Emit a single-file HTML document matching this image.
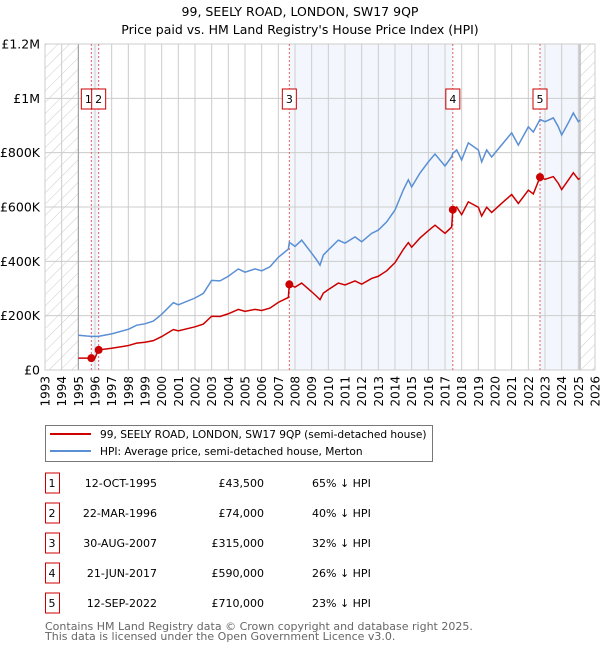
<!DOCTYPE html>
<html><head><meta charset="utf-8">
<style>
body{margin:0;background:#fff;font-family:"DejaVu Sans","Liberation Sans",sans-serif;}
svg text{font-family:"DejaVu Sans","Liberation Sans",sans-serif;}
</style></head>
<body>
<svg id="chart" width="600" height="650" xmlns="http://www.w3.org/2000/svg">
<defs>
<pattern id="hatch" patternUnits="userSpaceOnUse" width="8" height="8" patternTransform="rotate(45)">
<line x1="0" y1="0" x2="0" y2="8" stroke="#ccc" stroke-width="1"/>
</pattern>
<clipPath id="plotclip"><rect x="45" y="44" width="550" height="326"/></clipPath>
</defs>
<text x="300" y="16" text-anchor="middle" font-size="12.5">99, SEELY ROAD, LONDON, SW17 9QP</text>
<text x="300" y="34" text-anchor="middle" font-size="12.5">Price paid vs. HM Land Registry's House Price Index (HPI)</text>
<g id="plot"></g>
<g>
<rect x="45.5" y="425.5" width="387" height="36" fill="#fff" stroke="#777"/>
<line x1="50" y1="434" x2="91" y2="434" stroke="#cc0000" stroke-width="2"/>
<text x="100" y="438" font-size="10.6">99, SEELY ROAD, LONDON, SW17 9QP (semi-detached house)</text>
<line x1="50" y1="451" x2="91" y2="451" stroke="#5a8fd4" stroke-width="2"/>
<text x="100" y="455" font-size="10.6">HPI: Average price, semi-detached house, Merton</text>
</g>
<g id="table"></g>
<text x="45" y="630" font-size="11" fill="#666">Contains HM Land Registry data © Crown copyright and database right 2025.</text>
<text x="45" y="640" font-size="11" fill="#666">This data is licensed under the Open Government Licence v3.0.</text>
</svg>
<script>
const hpiDates=[1995.0,1995.5,1995.78,1996.0,1996.2,1997.0,1998.0,1998.5,1999.0,1999.5,2000.0,2000.7,2001.0,2002.0,2002.5,2003.0,2003.5,2004.0,2004.6,2005.0,2005.6,2006.0,2006.5,2007.0,2007.6,2007.66,2008.0,2008.4,2009.0,2009.3,2009.5,2009.7,2010.0,2010.6,2011.0,2011.6,2012.0,2012.6,2013.0,2013.5,2014.0,2014.5,2014.8,2015.0,2015.5,2016.0,2016.4,2017.0,2017.4,2017.47,2017.7,2018.0,2018.4,2019.0,2019.2,2019.5,2019.8,2020.5,2021.0,2021.4,2022.0,2022.3,2022.7,2023.0,2023.5,2023.8,2024.0,2024.4,2024.7,2025.0,2025.1];
const hpiValues=[128,125,124,124,124,133,150,165,170,180,205,248,240,265,282,330,328,345,372,360,372,365,380,415,445,470,455,478,430,405,386,423,442,478,467,490,472,503,515,545,589,663,700,674,725,766,795,751,785,797,810,773,836,810,766,810,784,836,873,828,895,876,922,914,928,895,865,910,946,914,920];
const priceValues=[43.5,43.5,43.5,43.5,74,80,90,99,102,108,123,149,144,159,169,198,197,207,223,216,223,219,228,249,267,315,305,320,288,271,259,283,296,320,313,328,316,337,345,365,395,444,469,452,486,513,533,503,526,590,600,572,619,599,567,599,580,619,646,613,662,648,710,702,712,687,664,699,726,702,706];
const saleDates=[1995.78,1996.22,2007.66,2017.47,2022.7];
const salePrices=[43.5,74,315,590,710];
const saleLabels=["1","2","3","4","5"];
const saleDateText=["12-OCT-1995","22-MAR-1996","30-AUG-2007","21-JUN-2017","12-SEP-2022"];
const salePriceText=["£43,500","£74,000","£315,000","£590,000","£710,000"];
const saleHpiText=["65% ↓ HPI","40% ↓ HPI","32% ↓ HPI","26% ↓ HPI","23% ↓ HPI"];
const yTicks=[0,200,400,600,800,1000,1200];
const yTickLabels=["£0","£200K","£400K","£600K","£800K","£1M","£1.2M"];
const xYears=[1993,1994,1995,1996,1997,1998,1999,2000,2001,2002,2003,2004,2005,2006,2007,2008,2009,2010,2011,2012,2013,2014,2015,2016,2017,2018,2019,2020,2021,2022,2023,2024,2025,2026];

const NS="http://www.w3.org/2000/svg";
const X0=45,X1=595,Y0=370,Y1=44;
const xs=t=>X0+(t-1993)/(2026-1993)*(X1-X0);
const ys=v=>Y0-v/1200*(Y0-Y1);
const plot=document.getElementById('plot');
function mk(tag,attrs,parent){const e=document.createElementNS(NS,tag);for(const k in attrs)e.setAttribute(k,attrs[k]);(parent||plot).appendChild(e);return e;}

mk('rect',{x:X0,y:Y1,width:X1-X0,height:Y0-Y1,fill:'#fff'});
const shadePairs=[[0,1],[2,3],[4,-1]];
shadePairs.forEach(p=>{const a=xs(saleDates[p[0]]);const b=p[1]<0?xs(2025.1):xs(saleDates[p[1]]);
const r=mk('rect',{x:a,y:Y1,width:b-a,height:Y0-Y1,fill:'#eef3fc',opacity:0.7});

});
const h1=mk('rect',{x:X0,y:Y1,width:xs(1995)-X0,height:Y0-Y1,fill:'url(#hatch)'});


const h2=mk('rect',{x:xs(2025.1),y:Y1,width:X1-xs(2025.1),height:Y0-Y1,fill:'url(#hatch)'});


xYears.forEach((yr,i)=>{const g=mk('line',{x1:xs(yr),x2:xs(yr),y1:Y1,y2:Y0,stroke:'#ccc','stroke-width':1});


const t=mk('text',{x:0,y:0,'font-size':12,'text-anchor':'end',transform:`translate(${xs(yr)+4.5},${Y0+6}) rotate(-90)`});
t.textContent=yr;

});
yTicks.forEach((v,i)=>{const g=mk('line',{x1:X0,x2:X1,y1:ys(v),y2:ys(v),stroke:'#ccc','stroke-width':1});


const t=mk('text',{x:40,y:ys(v)+4.5,'font-size':12.5,'text-anchor':'end'});
t.textContent=yTickLabels[i];

});
[xs(1995),xs(2025.1)].forEach(x=>{const l=mk('line',{x1:x,x2:x,y1:Y1,y2:Y0,stroke:'#999','stroke-width':1});

});
const fr=mk('rect',{x:X0,y:Y1,width:X1-X0,height:Y0-Y1,fill:'none',stroke:'#ccc'});


saleDates.forEach(d=>{const l=mk('line',{x1:xs(d),x2:xs(d),y1:Y1,y2:Y0,stroke:'#e06060','stroke-width':1,'stroke-dasharray':'2,2'});

});
const hp=mk('polyline',{points:hpiDates.map((d,i)=>xs(d)+','+ys(hpiValues[i])).join(' '),fill:'none',stroke:'#5a8fd4','stroke-width':1.5,'clip-path':'url(#plotclip)'});


const pp=mk('polyline',{points:hpiDates.map((d,i)=>xs(d)+','+ys(priceValues[i])).join(' '),fill:'none',stroke:'#cc0000','stroke-width':1.5,'clip-path':'url(#plotclip)'});


saleDates.forEach((d,i)=>{const c=mk('circle',{cx:xs(d),cy:ys(salePrices[i]),r:4,fill:'#cc0000'});


const r=mk('rect',{x:xs(d)-(i==0?10:7),y:89,width:14,height:20,fill:'#fff',stroke:'#cc0000'});


const t=mk('text',{x:xs(d)-(i==0?3:0),y:103,'font-size':11,'text-anchor':'middle'});
t.textContent=saleLabels[i];

});
const tb=document.getElementById('table');
saleLabels.forEach((s,i)=>{const cy=483+i*30;
const r=mk('rect',{x:45.5,y:cy-10,width:14,height:20,fill:'#fff',stroke:'#cc0000'},tb);


const cells=[[52,'middle',s,'table-row-number'],[157,'end',saleDateText[i],'table-sale-date'],[264,'end',salePriceText[i],'table-sale-price'],[312,'start',saleHpiText[i],'table-hpi-diff']];
cells.forEach(c=>{const t=mk('text',{x:c[0],y:cy+4,'font-size':11,'text-anchor':c[1]},tb);t.textContent=c[2];

});});
</script>
</body></html>
